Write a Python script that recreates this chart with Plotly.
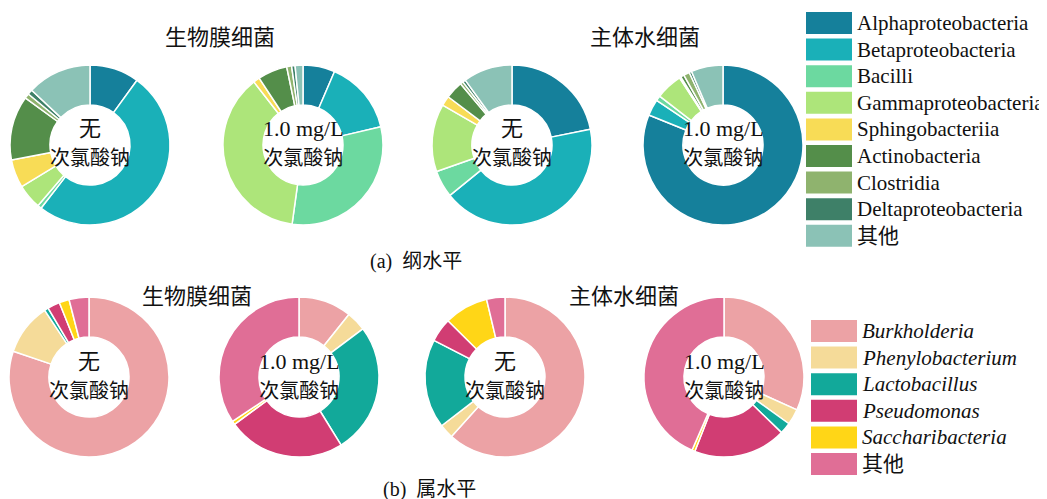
import plotly.graph_objects as go

W, H = 1047, 499
OFF = 8  # page body margin
SERIF = "Liberation Serif, Times New Roman, Noto Sans CJK SC, serif"

class_labels = ["Alphaproteobacteria", "Betaproteobacteria", "Bacilli", "Gammaproteobacteria",
                "Sphingobacteriia", "Actinobacteria", "Clostridia", "Deltaproteobacteria", "其他"]
class_colors = ["#15809B", "#1AB0B8", "#6CD9A0", "#ADE57A", "#F8DC56",
                "#548E4A", "#8FB36E", "#3E8068", "#8BC2B6"]
class_biofilm_none = [10, 50.5, 0.8, 5, 5.7, 13, 1, 1, 13]
class_biofilm_cl = [6.5, 15, 31.1, 37.6, 1.3, 6, 1, 0.7, 1.6]
class_water_none = [22, 42.6, 5.5, 13.8, 2, 3.6, 0.6, 0.6, 10]
class_water_cl = [80.8, 3.3, 1, 5.4, 0.3, 0.7, 1.2, 0.5, 6.4]

genus_labels = ["Burkholderia", "Phenylobacterium", "Lactobacillus", "Pseudomonas", "Saccharibacteria", "其他"]
genus_colors = ["#ECA2A5", "#F5DB99", "#12A99A", "#D13D73", "#FFD617", "#E06E96"]
genus_biofilm_none = [79.9, 10.4, 0.8, 2.5, 2, 4]
genus_biofilm_cl = [10.7, 4, 26.4, 23.7, 0.7, 34.3]
genus_water_none = [61.6, 2.9, 18, 4.8, 8.9, 3.7]
genus_water_cl = [31.7, 3.2, 2.3, 18.7, 0.6, 43.4]

CJK = '<span style="font-size:20px">次氯酸钠</span>'
center_text = ["无<br>" + CJK, "1.0 mg/L<br>" + CJK, "无<br>" + CJK, "1.0 mg/L<br>" + CJK]


def px(x):
    return (x - OFF) / W


def py(y):
    return 1 - (y - OFF) / H


fig = go.Figure()
annotations = []
shapes = []

rows = [
    (class_labels, class_colors, [class_biofilm_none, class_biofilm_cl, class_water_none, class_water_cl],
     [(90, 145), (303, 145), (512, 145), (723, 145)]),
    (genus_labels, genus_colors, [genus_biofilm_none, genus_biofilm_cl, genus_water_none, genus_water_cl],
     [(89, 377), (299, 377), (505, 377), (724, 377)]),
]
r = 80
for labels, colors, series, centers in rows:
    for vals, (cx, cy), txt in zip(series, centers, center_text):
        fig.add_trace(go.Pie(
            labels=labels, values=vals, hole=0.5, sort=False, direction="clockwise",
            marker=dict(colors=colors, line=dict(color="white", width=1.5)),
            textinfo="none", showlegend=False,
            domain=dict(x=[px(cx - r), px(cx + r)], y=[py(cy + r), py(cy - r)]),
        ))
        annotations.append(dict(x=px(cx), y=py(cy - 2), xref="paper", yref="paper", text=txt,
                                xanchor="center", yanchor="middle",
                                showarrow=False, font=dict(size=22, color="#111")))

# titles and captions
for txt, x, y in [("生物膜细菌", 220, 38), ("主体水细菌", 645, 38), ("生物膜细菌", 197, 296),
                  ("主体水细菌", 624, 296), ("(a)  纲水平", 416, 262), ("(b)  属水平", 429, 489)]:
    size = 22 if "细菌" in txt else 20
    annotations.append(dict(x=px(x), y=py(y), xref="paper", yref="paper", text=txt,
                            xanchor="center", yanchor="middle",
                            showarrow=False, font=dict(size=size, color="#111")))

# legends
for labels, colors, x0, y0, italic in [(class_labels, class_colors, 806, 12, False),
                                      (genus_labels, genus_colors, 811, 320, True)]:
    for i, (lab, col) in enumerate(zip(labels, colors)):
        top = y0 + i * 26.6
        shapes.append(dict(type="rect", xref="paper", yref="paper", x0=px(x0), x1=px(x0 + 46),
                           y0=py(top + 22), y1=py(top), fillcolor=col, line=dict(width=0)))
        t = f"<i>{lab}</i>" if italic and lab != "其他" else lab
        annotations.append(dict(x=px(x0 + 49), y=py(top + 11), xref="paper", yref="paper", text=t,
                                xanchor="left", yanchor="middle",
                                showarrow=False, font=dict(size=21, color="#111")))

fig.update_layout(width=W, height=H, margin=dict(l=0, r=0, t=0, b=0),
                  paper_bgcolor="white", plot_bgcolor="white",
                  font=dict(family=SERIF, color="#111"),
                  annotations=annotations, shapes=shapes)
fig.write_html("out.html")
